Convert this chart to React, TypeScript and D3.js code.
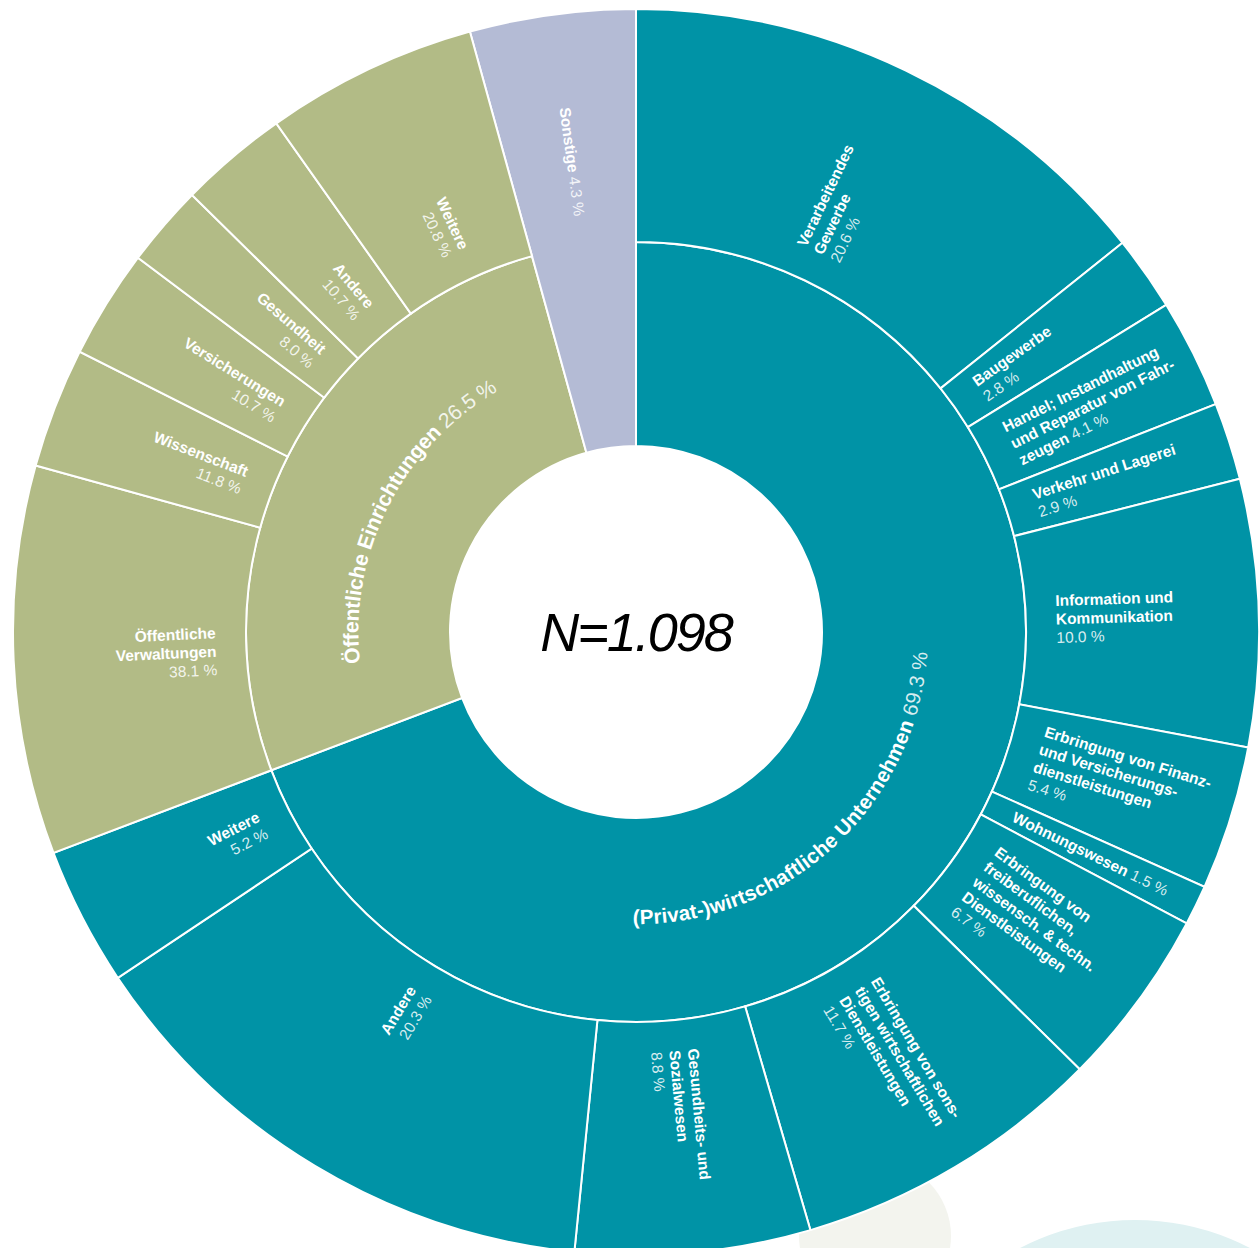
import * as d3 from "d3";

const width = 1260;
const height = 1248;
const cx = 636;
const cy = 632;
const rHole = 186;
const rMid = 390;
const rOuter = 623;

// Hauptgruppen (innerer Ring)
const sectors = ["(Privat-)wirtschaftliche Unternehmen", "Öffentliche Einrichtungen", "Sonstige"];
const sectorShares = [69.3, 26.5, 4.3];
const sectorColors = ["#0093a6", "#b2bb86", "#b4bbd5"];

// (Privat-)wirtschaftliche Unternehmen, Anteile in %
const privatBranches = [
  "Verarbeitendes\nGewerbe",
  "Baugewerbe",
  "Handel; Instandhaltung\nund Reparatur von Fahr-\nzeugen",
  "Verkehr und Lagerei",
  "Information und\nKommunikation",
  "Erbringung von Finanz-\nund Versicherungs-\ndienstleistungen",
  "Wohnungswesen",
  "Erbringung von\nfreiberuflichen,\nwissensch. & techn.\nDienstleistungen",
  "Erbringung von sons-\ntigen wirtschaftlichen\nDienstleistungen",
  "Gesundheits- und\nSozialwesen",
  "Andere",
  "Weitere",
];
const privatShares = [20.6, 2.8, 4.1, 2.9, 10.0, 5.4, 1.5, 6.7, 11.7, 8.8, 20.3, 5.2];
const privatPctInline = [false, false, true, false, false, false, true, false, false, false, false, false];

// Öffentliche Einrichtungen, Anteile in %
const oeffBranches = ["Öffentliche\nVerwaltungen", "Wissenschaft", "Versicherungen", "Gesundheit", "Andere", "Weitere"];
const oeffShares = [38.1, 11.8, 10.7, 8.0, 10.7, 20.8];
const oeffPctInline = [false, false, false, false, false, false];

const centerLabel = "N=1.098";

const fmt = (v: number) => d3.format(".1f")(v) + " %";
const font = "'Liberation Sans', Arial, Helvetica, sans-serif";

const pie = d3.pie<number>().sort(null).value((d) => d);
const sectorArcs = pie(sectorShares);

const childPie = (shares: number[], parent: d3.PieArcDatum<number>) =>
  d3.pie<number>().sort(null).value((d) => d).startAngle(parent.startAngle).endAngle(parent.endAngle)(shares);

const privatArcs = childPie(privatShares, sectorArcs[0]);
const oeffArcs = childPie(oeffShares, sectorArcs[1]);

const arcInner = d3.arc<d3.PieArcDatum<number>>().innerRadius(rHole).outerRadius(rMid);
const arcOuter = d3.arc<d3.PieArcDatum<number>>().innerRadius(rMid).outerRadius(rOuter);
const arcFull = d3.arc<d3.PieArcDatum<number>>().innerRadius(rHole).outerRadius(rOuter);

const labelR = rMid + 30;
const fontSize = 15.5;
const lineH = 18.5;

function OuterLabel({ d, name, pct, inline }: { d: d3.PieArcDatum<number>; name: string; pct: string; inline: boolean }) {
  const mid = (d.startAngle + d.endAngle) / 2;
  const deg = (mid * 180) / Math.PI;
  const flip = deg > 180;
  const rot = flip ? deg - 270 : deg - 90;
  const x = labelR * Math.sin(mid);
  const y = -labelR * Math.cos(mid);
  const lines = name.split("\n");
  const rows: { name: string; pct: string | null }[] = lines.map((l) => ({ name: l, pct: null }));
  if (inline) rows[rows.length - 1].pct = pct;
  else rows.push({ name: "", pct });
  const n = rows.length;
  return (
    <text
      transform={`translate(${x},${y}) rotate(${rot})`}
      textAnchor={flip ? "end" : "start"}
      fontFamily={font}
      fontSize={fontSize}
      fill="#fff"
    >
      {rows.map((row, i) => (
        <tspan key={i} x={0} y={(i - (n - 1) / 2) * lineH + fontSize * 0.35}>
          {row.name && <tspan fontWeight="bold">{row.name}</tspan>}
          {row.pct && (
            <tspan fillOpacity={0.85}>
              {row.name ? " " : ""}
              {row.pct}
            </tspan>
          )}
        </tspan>
      ))}
    </text>
  );
}

const innerLabelR = 285;
const innerShiftDeg = [12.7, 0];
const innerFontSize = [20.6, 21.2];

function arcPath(centerDeg: number, r: number) {
  const c = (centerDeg * Math.PI) / 180;
  const span = (88 * Math.PI) / 180;
  const bottom = Math.cos(c) < 0;
  const a0 = bottom ? c + span : c - span;
  const a1 = bottom ? c - span : c + span;
  const p = (a: number) => [r * Math.sin(a), -r * Math.cos(a)];
  const [x0, y0] = p(a0);
  const [x1, y1] = p(a1);
  return `M${x0},${y0} A${r},${r} 0 0 ${bottom ? 0 : 1} ${x1},${y1}`;
}

export default function App() {
  return (
    <div style={{ position: "absolute", left: 0, top: 0 }}>
      <svg width={width} height={height} style={{ display: "block" }}>
        <rect width={width} height={height} fill="#fff" />
        <circle cx={875} cy={1236} r={76} fill="#f3f4ee" />
        <circle cx={1135} cy={1470} r={250} fill="#dff1f2" />
        <g transform={`translate(${cx},${cy})`}>
          {/* innerer Ring */}
          {sectorArcs.map((d, i) => (
            <path
              key={"s" + i}
              d={(i === 2 ? arcFull(d) : arcInner(d)) || ""}
              fill={sectorColors[i]}
              stroke="#fff"
              strokeWidth={2}
            />
          ))}
          {/* äußerer Ring */}
          {privatArcs.map((d, i) => (
            <path key={"p" + i} d={arcOuter(d) || ""} fill={sectorColors[0]} stroke="#fff" strokeWidth={2} />
          ))}
          {oeffArcs.map((d, i) => (
            <path key={"o" + i} d={arcOuter(d) || ""} fill={sectorColors[1]} stroke="#fff" strokeWidth={2} />
          ))}
          {privatArcs.map((d, i) => (
            <OuterLabel key={"pl" + i} d={d} name={privatBranches[i]} pct={fmt(privatShares[i])} inline={privatPctInline[i]} />
          ))}
          {oeffArcs.map((d, i) => (
            <OuterLabel key={"ol" + i} d={d} name={oeffBranches[i]} pct={fmt(oeffShares[i])} inline={oeffPctInline[i]} />
          ))}
          <OuterLabel d={sectorArcs[2]} name={sectors[2]} pct={fmt(sectorShares[2])} inline={true} />
          {/* Beschriftung innerer Ring */}
          {sectorArcs.slice(0, 2).map((d, i) => {
            const midDeg = (((d.startAngle + d.endAngle) / 2) * 180) / Math.PI + innerShiftDeg[i];
            return (
              <g key={"il" + i}>
                <path id={"inner-arc-" + i} d={arcPath(midDeg, innerLabelR)} fill="none" />
                <text fontFamily={font} fontSize={innerFontSize[i]} fill="#fff" dy="0.35em">
                  <textPath href={"#inner-arc-" + i} startOffset="50%" textAnchor="middle">
                    <tspan fontWeight="bold">{sectors[i]}</tspan>
                    <tspan fillOpacity={0.85}> {fmt(sectorShares[i])}</tspan>
                  </textPath>
                </text>
              </g>
            );
          })}
          <text
            x={0}
            y={0}
            dy="0.36em"
            textAnchor="middle"
            fontFamily={font}
            fontStyle="italic"
            fontSize={54}
            letterSpacing={-2}
            fill="#000"
          >
            {centerLabel}
          </text>
        </g>
      </svg>
    </div>
  );
}
